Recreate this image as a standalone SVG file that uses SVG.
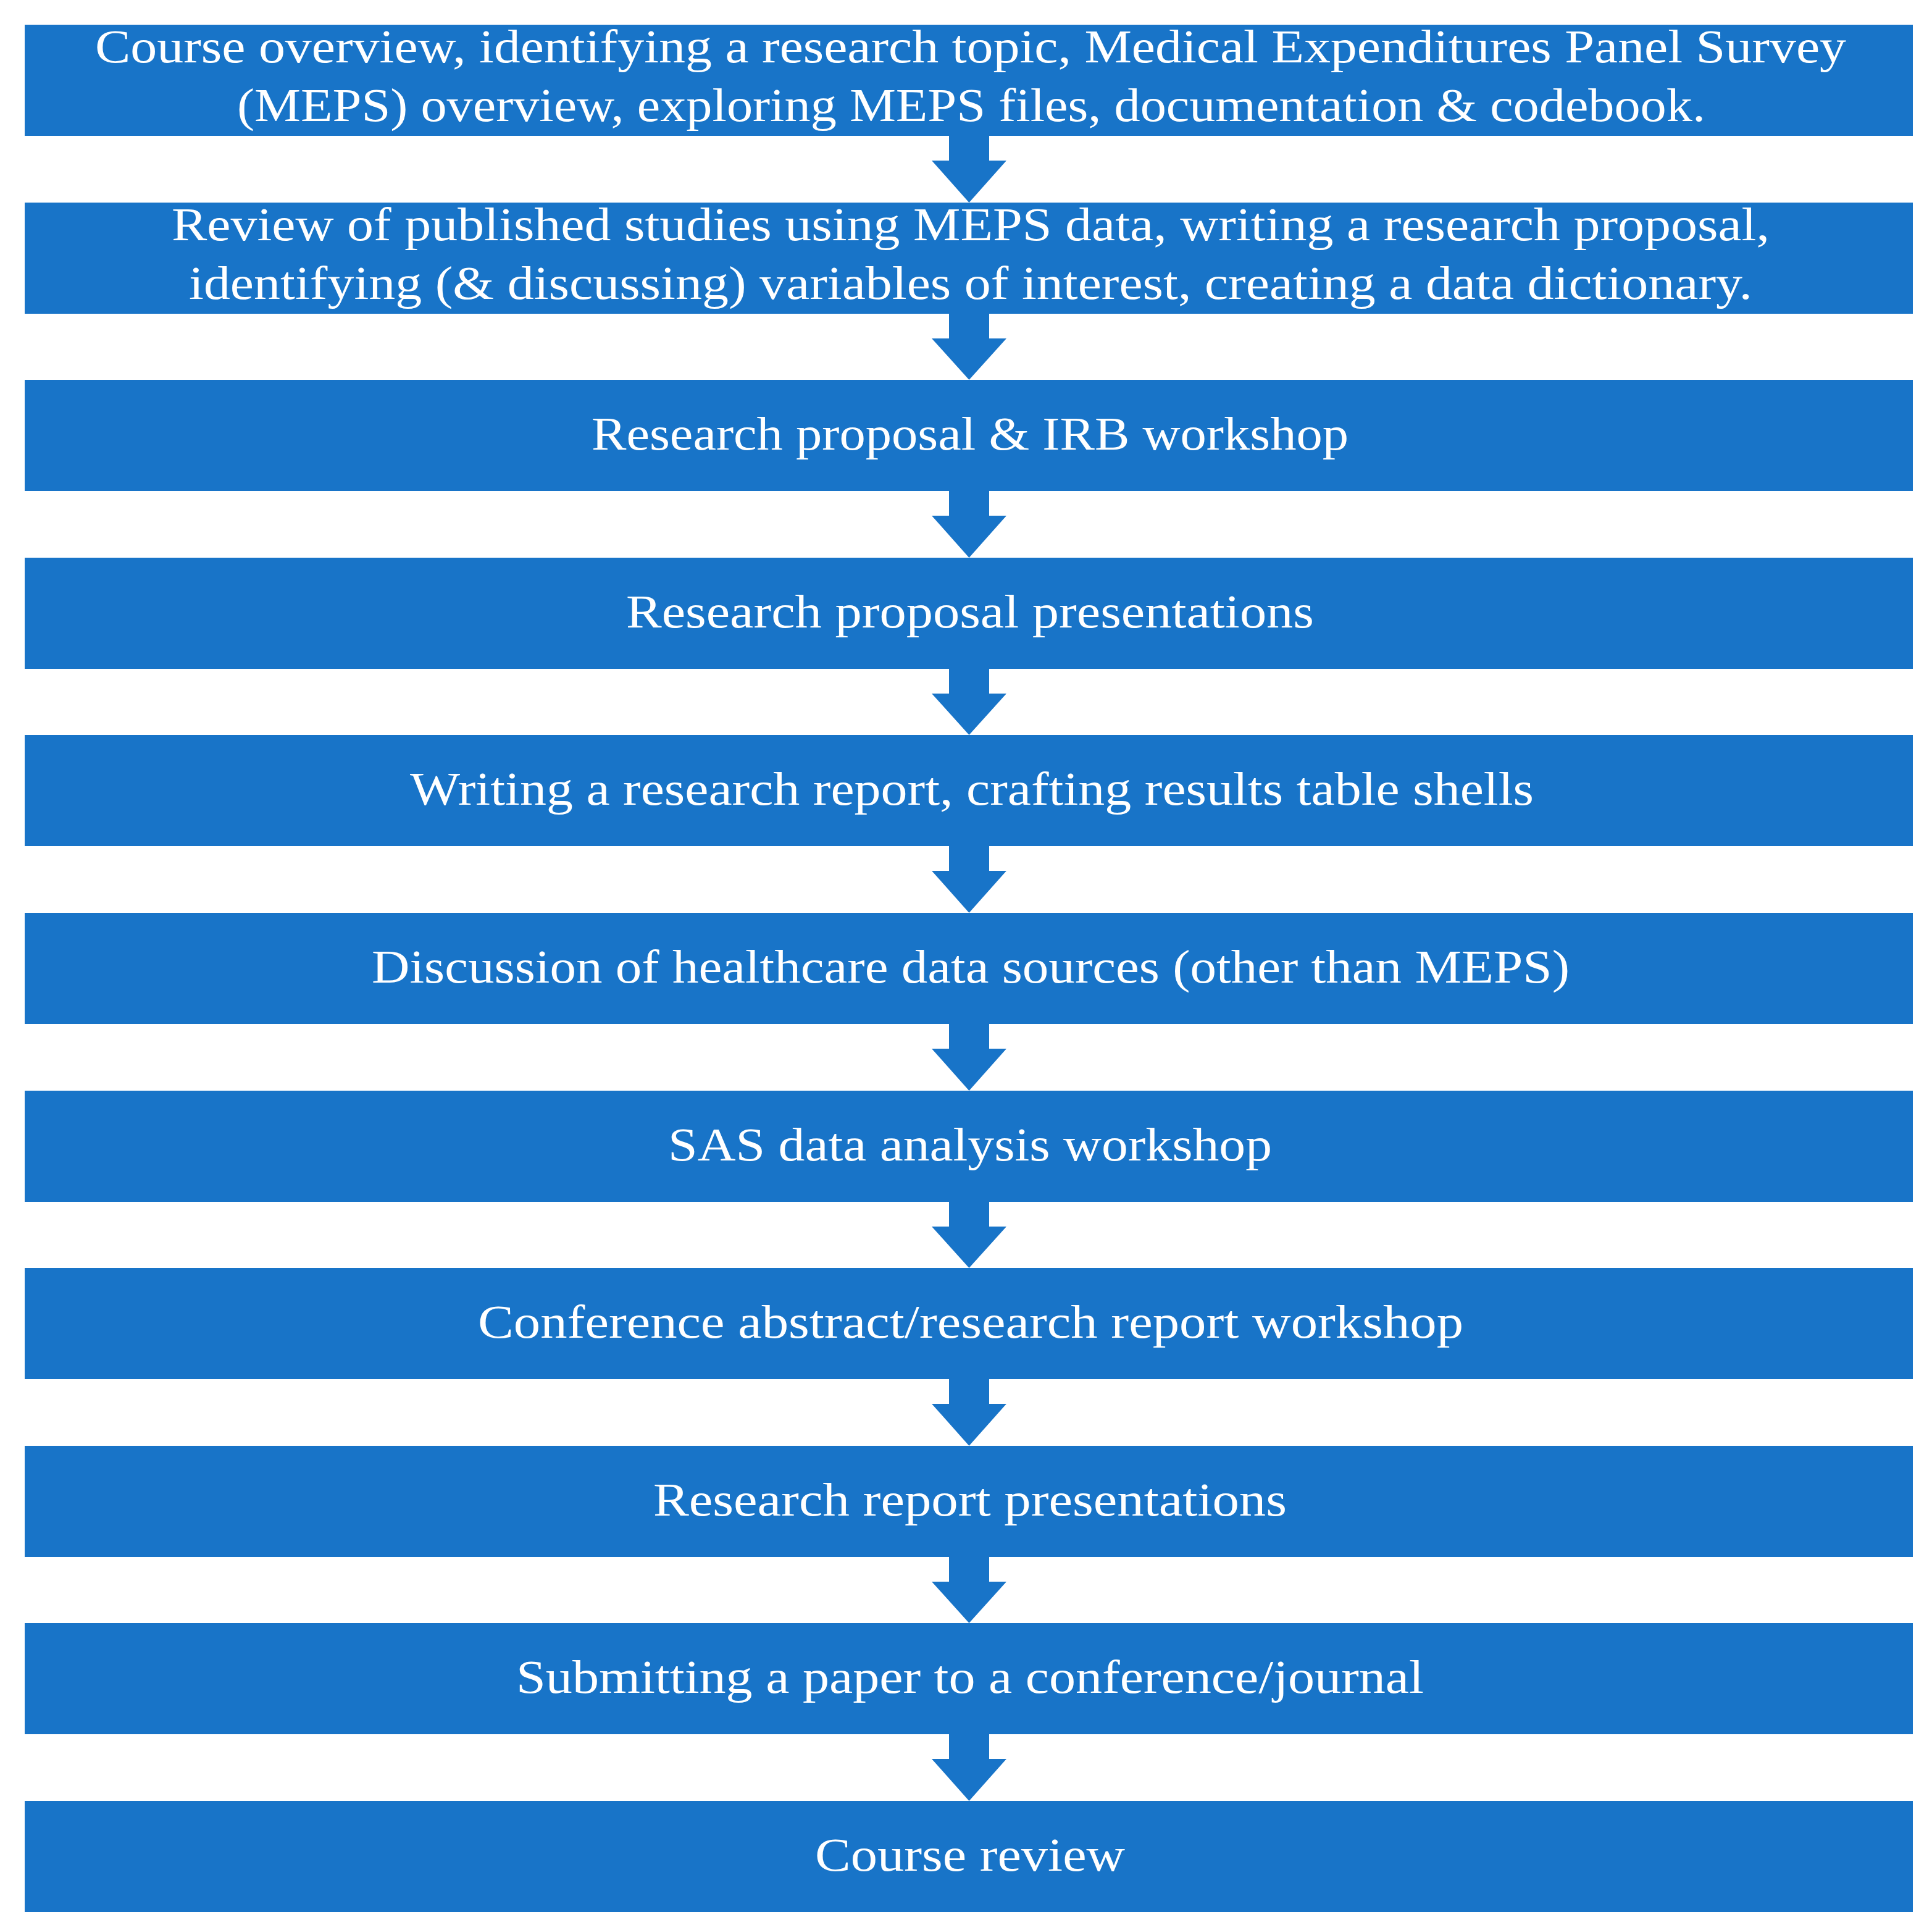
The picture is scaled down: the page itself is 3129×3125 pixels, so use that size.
<svg xmlns="http://www.w3.org/2000/svg" width="3129" height="3125" viewBox="0 0 3129 3125">
<style>
.box{fill:#1874C8}
.arr{fill:#1874C8}
text{font-family:"Liberation Serif","DejaVu Serif",serif;font-size:76px;fill:#fff;text-anchor:middle}
</style>
<rect width="3129" height="3125" fill="#fff"/>
<g id="connectors">
<polygon class="arr" points="1537,220 1602,220 1602,260 1630,260 1569.5,328 1509,260 1537,260"/>
<polygon class="arr" points="1537,508 1602,508 1602,548 1630,548 1569.5,615 1509,548 1537,548"/>
<polygon class="arr" points="1537,795 1602,795 1602,835 1630,835 1569.5,903 1509,835 1537,835"/>
<polygon class="arr" points="1537,1083 1602,1083 1602,1123 1630,1123 1569.5,1190 1509,1123 1537,1123"/>
<polygon class="arr" points="1537,1370 1602,1370 1602,1410 1630,1410 1569.5,1478 1509,1410 1537,1410"/>
<polygon class="arr" points="1537,1658 1602,1658 1602,1698 1630,1698 1569.5,1766 1509,1698 1537,1698"/>
<polygon class="arr" points="1537,1946 1602,1946 1602,1986 1630,1986 1569.5,2053 1509,1986 1537,1986"/>
<polygon class="arr" points="1537,2233 1602,2233 1602,2273 1630,2273 1569.5,2341 1509,2273 1537,2273"/>
<polygon class="arr" points="1537,2521 1602,2521 1602,2561 1630,2561 1569.5,2628 1509,2561 1537,2561"/>
<polygon class="arr" points="1537,2808 1602,2808 1602,2848 1630,2848 1569.5,2916 1509,2848 1537,2848"/>
</g>
<g id="n1"><rect class="box" x="40" y="40" width="3058" height="180"/>
<text x="1572" y="101" textLength="2836" lengthAdjust="spacingAndGlyphs">Course overview, identifying a research topic, Medical Expenditures Panel Survey</text>
<text x="1573" y="196" textLength="2378" lengthAdjust="spacingAndGlyphs">(MEPS) overview, exploring MEPS files, documentation &amp; codebook.</text></g>
<g id="n2"><rect class="box" x="40" y="328" width="3058" height="180"/>
<text x="1572" y="389" textLength="2588" lengthAdjust="spacingAndGlyphs">Review of published studies using MEPS data, writing a research proposal,</text>
<text x="1572" y="484" textLength="2532" lengthAdjust="spacingAndGlyphs">identifying (&amp; discussing) variables of interest, creating a data dictionary.</text></g>
<g id="n3"><rect class="box" x="40" y="615" width="3058" height="180"/>
<text x="1571" y="728" textLength="1226" lengthAdjust="spacingAndGlyphs">Research proposal &amp; IRB workshop</text></g>
<g id="n4"><rect class="box" x="40" y="903" width="3058" height="180"/>
<text x="1571" y="1016" textLength="1114" lengthAdjust="spacingAndGlyphs">Research proposal presentations</text></g>
<g id="n5"><rect class="box" x="40" y="1190" width="3058" height="180"/>
<text x="1574" y="1303" textLength="1820" lengthAdjust="spacingAndGlyphs">Writing a research report, crafting results table shells</text></g>
<g id="n6"><rect class="box" x="40" y="1478" width="3058" height="180"/>
<text x="1572" y="1591" textLength="1940" lengthAdjust="spacingAndGlyphs">Discussion of healthcare data sources (other than MEPS)</text></g>
<g id="n7"><rect class="box" x="40" y="1766" width="3058" height="180"/>
<text x="1571" y="1879" textLength="978" lengthAdjust="spacingAndGlyphs">SAS data analysis workshop</text></g>
<g id="n8"><rect class="box" x="40" y="2053" width="3058" height="180"/>
<text x="1572" y="2166" textLength="1596" lengthAdjust="spacingAndGlyphs">Conference abstract/research report workshop</text></g>
<g id="n9"><rect class="box" x="40" y="2341" width="3058" height="180"/>
<text x="1571" y="2454" textLength="1026" lengthAdjust="spacingAndGlyphs">Research report presentations</text></g>
<g id="n10"><rect class="box" x="40" y="2628" width="3058" height="180"/>
<text x="1571" y="2741" textLength="1470" lengthAdjust="spacingAndGlyphs">Submitting a paper to a conference/journal</text></g>
<g id="n11"><rect class="box" x="40" y="2916" width="3058" height="180"/>
<text x="1571" y="3029" textLength="502" lengthAdjust="spacingAndGlyphs">Course review</text></g>
</svg>
